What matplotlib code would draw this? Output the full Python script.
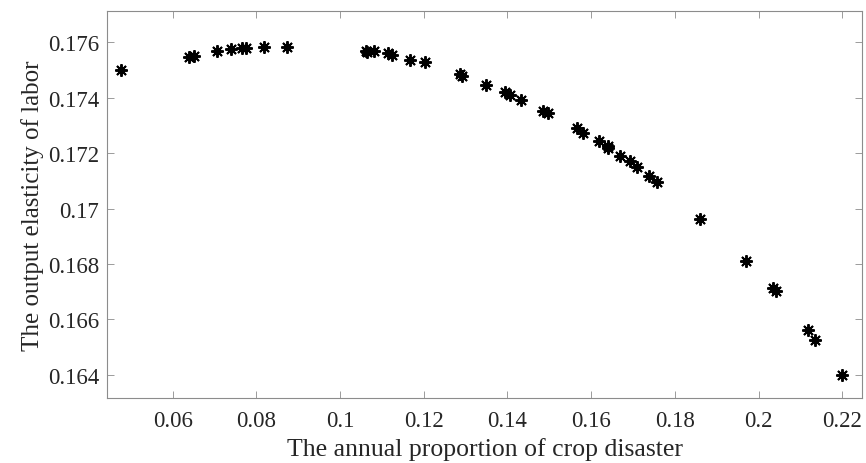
import matplotlib
matplotlib.use("Agg")
import matplotlib.pyplot as plt
from matplotlib.ticker import FuncFormatter

# 数据: 作物受灾比例 vs 劳动产出弹性
disaster = [0.0476, 0.0638, 0.0650, 0.0706, 0.0740, 0.0765, 0.0775, 0.0818,
            0.0874, 0.1061, 0.1064, 0.1082, 0.1114, 0.1124, 0.1167, 0.1202,
            0.1286, 0.1291, 0.1349, 0.1393, 0.1406, 0.1433, 0.1485, 0.1497,
            0.1566, 0.1581, 0.1618, 0.1639, 0.1641, 0.1668, 0.1692, 0.1709,
            0.1737, 0.1757, 0.1861, 0.1970, 0.2034, 0.2042, 0.2118, 0.2134,
            0.2200]
elasticity = [0.17501, 0.17546, 0.17550, 0.17568, 0.17575, 0.17579, 0.17579,
              0.17582, 0.17584, 0.17569, 0.17564, 0.17568, 0.17560, 0.17554,
              0.17537, 0.17528, 0.17486, 0.17480, 0.17446, 0.17420, 0.17410,
              0.17390, 0.17353, 0.17345, 0.17290, 0.17273, 0.17243, 0.17225,
              0.17218, 0.17191, 0.17170, 0.17150, 0.17118, 0.17094, 0.16963,
              0.16812, 0.16714, 0.16703, 0.16563, 0.16527, 0.16400]

x_ticks = [0.06, 0.08, 0.10, 0.12, 0.14, 0.16, 0.18, 0.20, 0.22]
y_ticks = [0.164, 0.166, 0.168, 0.170, 0.172, 0.174, 0.176]

plt.rcParams['font.family'] = ['Liberation Serif', 'DejaVu Serif']

fig = plt.figure(figsize=(8.66, 4.64), dpi=100)
ax = fig.add_axes([0.1239, 0.1401, 0.8715, 0.8334])

ax.plot(disaster, elasticity, linestyle='none', marker=(8, 2, 0),
        markersize=9, markeredgewidth=1.4, color='black')

ax.set_xlim(0.0444, 0.2247)
ax.set_ylim(0.16316, 0.17712)
ax.set_xticks(x_ticks)
ax.set_yticks(y_ticks)
fmt = FuncFormatter(lambda v, p: '%g' % round(v, 4))
ax.xaxis.set_major_formatter(fmt)
ax.yaxis.set_major_formatter(fmt)

grey = '#262626'
for s in ax.spines.values():
    s.set_color('#8c8c8c')
    s.set_linewidth(0.8)
ax.tick_params(direction='in', top=True, right=True, length=5, width=0.6,
               color='#8c8c8c', labelsize=16.5, labelcolor=grey)
ax.tick_params(axis='x', pad=9)
ax.tick_params(axis='y', pad=6)

ax.set_xlabel('The annual proportion of crop disaster', fontsize=18.5,
              color=grey, labelpad=4)
ax.set_ylabel('The output elasticity of labor', fontsize=18, color=grey,
              labelpad=3)

fig.savefig('out.png', dpi=100)
